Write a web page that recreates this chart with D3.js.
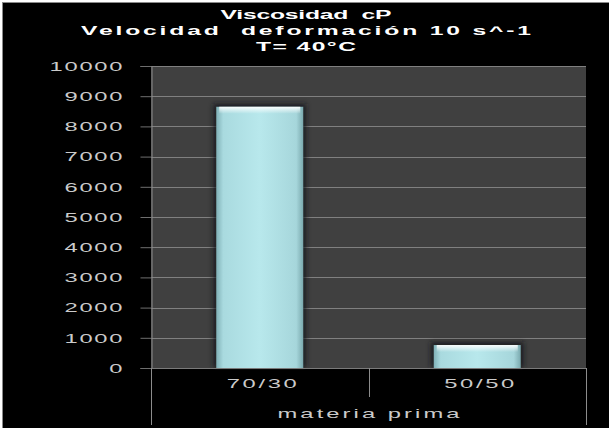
<!DOCTYPE html>
<html>
<head>
<meta charset="utf-8">
<script src="https://cdn.jsdelivr.net/npm/d3@7"></script>
<style>
  html, body { margin: 0; padding: 0; background: #ffffff; }
  svg { display: block; }
  text { font-family: "Liberation Sans", Arial, sans-serif; white-space: pre; }
</style>
</head>
<body>
<svg id="chart" width="609" height="428"></svg>
<script>
// Viscosity (cP) of each raw-material blend
const categories = ["70/30", "50/50"];
const viscosity = [8650, 760];
const yTicks = [0, 1000, 2000, 3000, 4000, 5000, 6000, 7000, 8000, 9000, 10000];
const titleLines = ["Viscosidad  cP", "Velocidad  deformación 10 s^-1", "T= 40°C"];
const xAxisTitle = "materia prima";

const W = 609, H = 428;
const plot = { left: 151, right: 586, top: 66, bottom: 368 };
const sx = 1.9; // wide lettering: glyphs stretched horizontally

// stretch a text element horizontally and spread it to a given on-screen width
function wide(sel, x, yPos, width) {
  sel.attr("x", null).attr("y", null)
    .attr("transform", `translate(${x},${yPos}) scale(${sx},1)`);
  if (width && sel.text().length > 1) {
    sel.attr("textLength", width / sx).attr("lengthAdjust", "spacing");
  }
}

const svg = d3.select("#chart");
const defs = svg.append("defs");

// horizontal shading across each bar
const grad = defs.append("linearGradient").attr("id", "barFill")
  .attr("x1", "0").attr("x2", "1").attr("y1", "0").attr("y2", "0");
[["0%", "#80b1b7"], ["8%", "#a9dadf"], ["50%", "#b8e8ec"], ["92%", "#a6d6db"], ["100%", "#7aa9ae"]]
  .forEach(([o, c]) => grad.append("stop").attr("offset", o).attr("stop-color", c));
// highlight near the bar top
const topGrad = defs.append("linearGradient").attr("id", "barTop")
  .attr("x1", "0").attr("x2", "0").attr("y1", "0").attr("y2", "1");
[["0%", "#ffffff", 0.95], ["100%", "#ffffff", 0]]
  .forEach(([o, c, a]) => topGrad.append("stop").attr("offset", o).attr("stop-color", c).attr("stop-opacity", a));
const shadow = defs.append("filter").attr("id", "barShadow")
  .attr("x", "-20%").attr("y", "-20%").attr("width", "140%").attr("height", "140%");
shadow.append("feGaussianBlur").attr("stdDeviation", 2.5);

// background panel
svg.append("rect").attr("x", 0).attr("y", 0).attr("width", W).attr("height", H).attr("fill", "#ffffff");
svg.append("rect").attr("x", 2.5).attr("y", 2.5).attr("width", W).attr("height", H)
  .attr("fill", "#000000").attr("stroke", "#8a8a8a").attr("stroke-width", 1);

const y = d3.scaleLinear().domain([0, 10000]).range([plot.bottom, plot.top]);
const xBand = d3.scaleBand().domain(categories).range([plot.left, plot.right]);
const xBar = d3.scaleBand().domain(categories).range([plot.left, plot.right])
  .paddingInner(0.6).paddingOuter(0.3);

// plot area
svg.append("rect").attr("x", plot.left).attr("y", plot.top)
  .attr("width", plot.right - plot.left).attr("height", plot.bottom - plot.top)
  .attr("fill", "#404040");

// gridlines
svg.append("g").selectAll("line").data(yTicks.filter(d => d > 0)).join("line")
  .attr("x1", plot.left).attr("x2", plot.right)
  .attr("y1", d => Math.round(y(d)) + 0.5).attr("y2", d => Math.round(y(d)) + 0.5)
  .attr("stroke", "#808080").attr("stroke-width", 1);

// y axis
const yAxis = svg.append("g").attr("transform", `translate(${plot.left + 0.5},0)`)
  .call(d3.axisLeft(y).tickValues(yTicks).tickSize(11).tickPadding(18).tickFormat(d3.format("d")));
yAxis.select(".domain").attr("stroke", "#8c8c8c");
yAxis.selectAll(".tick line").attr("stroke", "#6e6e6e");
yAxis.selectAll(".tick text")
  .attr("fill", "#cbcbcb").attr("font-size", 12.5)
  .each(function () {
    const t = d3.select(this);
    const n = t.text().length;
    t.attr("dy", "0.34em");
    wide(t, +t.attr("x"), 0, n * 15 - 2);
  });

// bars
const bars = svg.append("g");
bars.selectAll("rect.shadow").data(categories).join("rect").attr("class", "shadow")
  .attr("x", d => xBar(d) - 3).attr("width", xBar.bandwidth() + 6)
  .attr("y", (d, i) => y(viscosity[i]) - 3).attr("height", (d, i) => y(0) - y(viscosity[i]) + 3)
  .attr("fill", "#15191a").attr("opacity", 0.8).attr("filter", "url(#barShadow)");
bars.selectAll("rect.bar").data(categories).join("rect").attr("class", "bar")
  .attr("x", d => xBar(d)).attr("width", xBar.bandwidth())
  .attr("y", (d, i) => y(viscosity[i])).attr("height", (d, i) => y(0) - y(viscosity[i]))
  .attr("fill", "url(#barFill)");
bars.selectAll("rect.top").data(categories).join("rect").attr("class", "top")
  .attr("x", d => xBar(d) + 3).attr("width", xBar.bandwidth() - 6)
  .attr("y", (d, i) => y(viscosity[i])).attr("height", 7)
  .attr("fill", "url(#barTop)");

// category axis: baseline and separators
svg.append("line").attr("x1", plot.left).attr("x2", plot.right)
  .attr("y1", plot.bottom + 0.5).attr("y2", plot.bottom + 0.5).attr("stroke", "#7a7a7a");
const seps = [plot.left, xBand(categories[1]), plot.right];
svg.append("g").selectAll("line").data(seps).join("line")
  .attr("x1", d => Math.round(d) + 0.5).attr("x2", d => Math.round(d) + 0.5)
  .attr("y1", plot.bottom).attr("y2", (d, i) => i === 1 ? 397 : 425)
  .attr("stroke", "#8c8c8c");

svg.append("g").selectAll("text").data(categories).join("text")
  .attr("text-anchor", "middle").attr("font-size", 12.5).attr("fill", "#cbcbcb")
  .text(d => d)
  .each(function (d) {
    wide(d3.select(this), xBand(d) + xBand.bandwidth() / 2 + 2, 388, 70);
  });

svg.append("text")
  .attr("text-anchor", "middle").attr("font-size", 12.5).attr("fill", "#cbcbcb")
  .text(xAxisTitle)
  .call(t => wide(t, (plot.left + plot.right) / 2, 418, 182));

// title
const titleWidths = [171, 450, 100];
svg.append("g").selectAll("text").data(titleLines).join("text")
  .attr("text-anchor", "middle").attr("font-size", 13).attr("font-weight", "bold")
  .attr("fill", "#ffffff")
  .text(d => d)
  .each(function (d, i) {
    wide(d3.select(this), 306, 19 + i * 16, titleWidths[i]);
  });
</script>
</body>
</html>
